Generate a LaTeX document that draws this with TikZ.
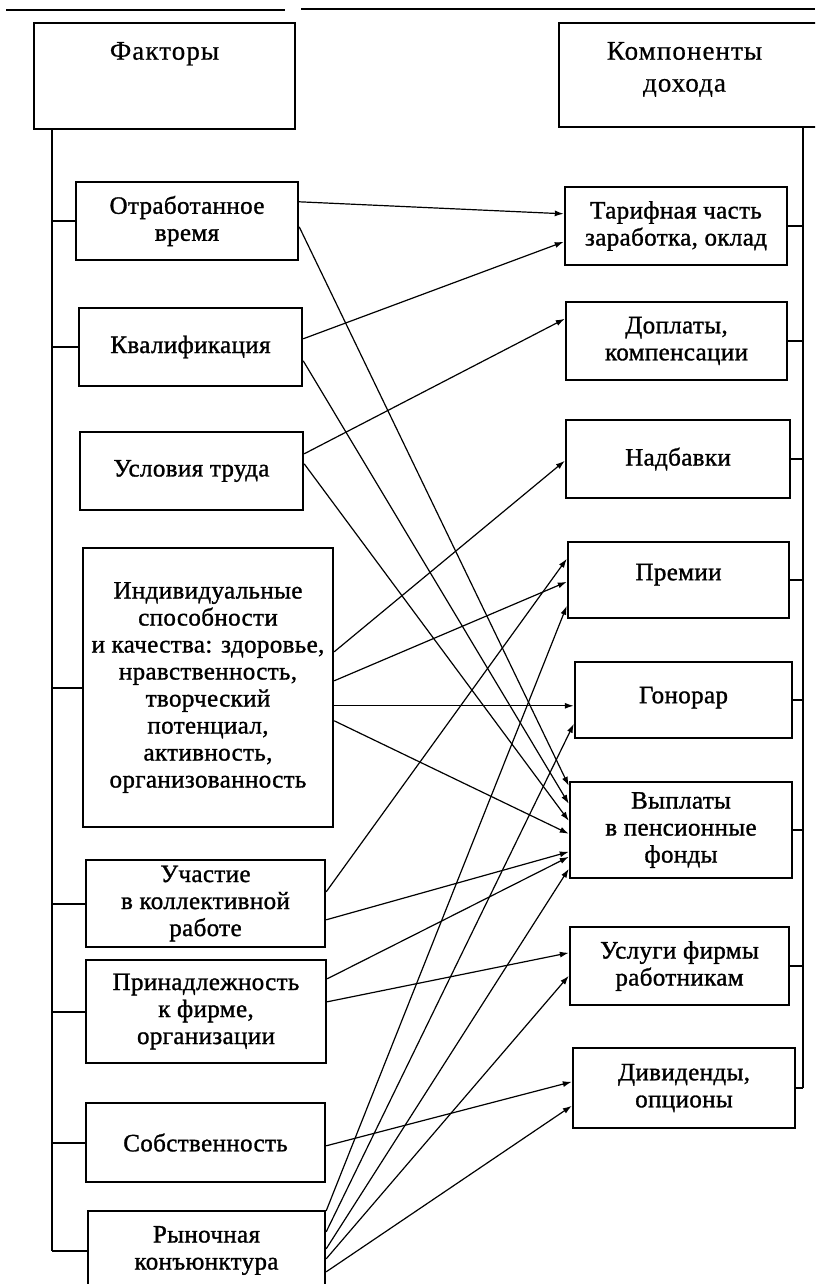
\documentclass[tikz,border=0pt]{standalone}
\usepackage{fontspec}
\setmainfont{Liberation Serif}[LetterSpace=1.5, FakeBold=1.2]
\newfontfamily\hdrfamily{Liberation Serif}[LetterSpace=4, FakeBold=0.6]
\usetikzlibrary{arrows.meta,calc}
\newcommand{\boxfont}{\fontsize{25}{27}\selectfont}
\newcommand{\hdrfont}{\hdrfamily\fontsize{27}{32}\selectfont}
\newcommand{\fromto}[4]{\draw[arr] ($(#1.north east)+(0,#2)$) -- ($(#3.north west)+(0,#4)$);}
\begin{document}
\begin{tikzpicture}[x=1pt,y=-1pt,
  box/.style={draw, line width=2.4pt, inner sep=0pt, align=center, font=\boxfont},
  wire/.style={line width=2pt},
  arr/.style={line width=1.2pt, -{Latex[length=9pt,width=6pt]}},
  rule/.style={line width=1.6pt}]
\useasboundingbox (0,0) rectangle (815,1284);
\clip (0,0) rectangle (815,1284);
% top rule
\draw[rule] (6,10) -- (285,10);
\draw[rule] (301,9) -- (815,9);
% headers
\node[box, minimum width=261pt, minimum height=106pt,
  label={[font=\hdrfont, anchor=north, inner sep=0pt, yshift=-20pt]north:Факторы}] (fak) at (164.5,76) {};
\node[box, minimum width=263pt, minimum height=104pt,
  label={[font=\hdrfont, align=center, anchor=north, inner sep=0pt, yshift=-20pt, xshift=-6pt]north:Компоненты\\дохода}] (komp) at (690.5,75) {};
% factors
\node[box, minimum width=222pt, minimum height=78pt] (otr) at (187,221) {Отработанное\\время};
\node[box, minimum width=223pt, minimum height=78pt] (kval) at (190.5,347) {Квалификация};
\node[box, minimum width=223pt, minimum height=78pt] (usl) at (191.5,471) {Условия труда};
\node[box, minimum width=250pt, minimum height=279pt] (ind) at (208,687.5) {Индивидуальные\\способности\\и качества: здоровье,\\нравственность,\\творческий\\потенциал,\\активность,\\организованность};
\node[box, minimum width=239pt, minimum height=87pt] (uch) at (205.5,903.5) {Участие\\в коллективной\\работе};
\node[box, minimum width=240pt, minimum height=103pt] (prin) at (206,1011.5) {Принадлежность\\к фирме,\\организации};
\node[box, minimum width=239pt, minimum height=79pt] (sob) at (205.5,1142.5) {Собственность};
\node[box, minimum width=237pt, minimum height=79pt] (ryn) at (206.5,1250.5) {Рыночная\\конъюнктура};
% income components
\node[box, minimum width=222pt, minimum height=78pt] (tar) at (676,226) {Тарифная часть\\заработка, оклад};
\node[box, minimum width=221pt, minimum height=78pt] (dop) at (676.5,341) {Доплаты,\\компенсации};
\node[box, minimum width=224pt, minimum height=78pt] (nad) at (678,459) {Надбавки};
\node[box, minimum width=221pt, minimum height=76pt] (prem) at (678.5,580) {\raisebox{16pt}{Премии}};
\node[box, minimum width=217pt, minimum height=76pt] (gon) at (683.5,700) {\raisebox{10pt}{Гонорар}};
\node[box, minimum width=222pt, minimum height=96pt] (vyp) at (681,830) {Выплаты\\в пенсионные\\фонды};
\node[box, minimum width=219pt, minimum height=78pt] (usg) at (679.5,966) {Услуги фирмы\\работникам};
\node[box, minimum width=222pt, minimum height=80pt] (div) at (684,1088) {Дивиденды,\\опционы};
% left trunk
\coordinate (lt) at ([xshift=19pt]fak.south west);
\draw[wire] (lt) -- (lt |- ryn.west);
\foreach \b in {otr,kval,ind,uch,prin,sob,ryn}
  \draw[wire] (lt |- \b.west) -- (\b.west);
% right trunk
\coordinate (rt) at ([xshift=112.5pt]komp.south);
\draw[wire] (rt) -- (rt |- div.east);
\foreach \b in {tar,dop,nad,prem,gon,vyp,usg,div}
  \draw[wire] (\b.east) -- (rt |- \b.east);
% influences
\fromto{otr}{21}{tar}{28}
\fromto{otr}{46}{vyp}{5}
\fromto{kval}{32}{tar}{56}
\fromto{kval}{54}{vyp}{23}
\fromto{usl}{23}{dop}{18}
\fromto{usl}{33}{vyp}{40}
\fromto{ind}{105}{nad}{42}
\fromto{ind}{134}{prem}{41}
\fromto{ind}{159}{gon}{45}
\fromto{ind}{174}{vyp}{53}
\fromto{uch}{33}{prem}{18}
\fromto{uch}{61}{vyp}{71}
\fromto{prin}{20}{vyp}{76}
\fromto{prin}{43}{usg}{27}
\fromto{sob}{44}{div}{35}
\fromto{ryn}{1}{prem}{65}
\fromto{ryn}{22}{gon}{63}
\fromto{ryn}{39}{vyp}{88}
\fromto{ryn}{49}{usg}{50}
\fromto{ryn}{62}{div}{59}
\end{tikzpicture}
\end{document}
